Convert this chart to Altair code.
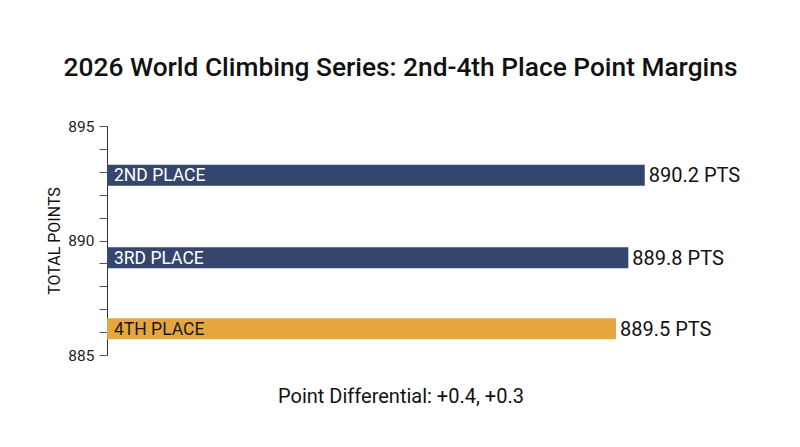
import altair as alt
import pandas as pd

places = ["2ND PLACE", "3RD PLACE", "4TH PLACE"]
points = [890.2, 889.8, 889.5]
point_labels = ["890.2 PTS", "889.8 PTS", "889.5 PTS"]
y_positions = [892.85, 889.25, 886.15]
bar_colors = ["#34466d", "#34466d", "#e5a63f"]
text_colors = ["#ffffff", "#ffffff", "#1a1a1a"]
x_base = 877.1
x_max = 891.4
y_ticks = list(range(885, 896))
half_band = 0.46

df = pd.DataFrame({
    "place": places,
    "points": points,
    "label": point_labels,
    "ypos": y_positions,
    "color": bar_colors,
    "tcolor": text_colors,
})
df["base"] = x_base
df["y0"] = df["ypos"] - half_band
df["y1"] = df["ypos"] + half_band

FONT = "Roboto"

x_enc = alt.X(
    "points:Q",
    scale=alt.Scale(domain=[x_base, x_max], nice=False, zero=False),
    axis=alt.Axis(
        title="Point Differential: +0.4, +0.3",
        domain=False, ticks=False, labels=False, grid=False,
        titleFontSize=20, titleFont=FONT, titleFontWeight="normal",
        titleColor="#111111", titlePadding=31,
    ),
)
y_scale = alt.Scale(domain=[885, 895], nice=False, zero=False)
y_axis = alt.Axis(
    title="TOTAL POINTS",
    values=y_ticks,
    labelExpr="datum.value % 5 == 0 ? datum.label : ''",
    labelOverlap=False,
    grid=False,
    tickSize=8, tickColor="#555555", domainColor="#333333",
    labelFontSize=15.5, labelFont=FONT, labelColor="#222222",
    labelPadding=5,
    titleFontSize=16, titleFont=FONT, titleFontWeight="normal",
    titleColor="#111111", titlePadding=5,
)

bars = alt.Chart(df).mark_rect().encode(
    x=x_enc,
    x2="base:Q",
    y=alt.Y("y0:Q", scale=y_scale, axis=y_axis),
    y2="y1:Q",
    color=alt.Color("color:N", scale=None),
)

cat_text = alt.Chart(df).mark_text(
    align="left", baseline="middle", dx=7, dy=1, fontSize=17.5, font=FONT
).encode(
    x="base:Q",
    y=alt.Y("ypos:Q", scale=y_scale, axis=y_axis),
    text="place:N",
    color=alt.Color("tcolor:N", scale=None),
)

val_text = alt.Chart(df).mark_text(
    align="left", baseline="middle", dx=4, dy=1, fontSize=20, font=FONT,
    color="#111111",
).encode(
    x="points:Q",
    y=alt.Y("ypos:Q", scale=y_scale, axis=y_axis),
    text="label:N",
)

chart = alt.layer(bars, cat_text, val_text).properties(
    width=587,
    height=229,
    title=alt.TitleParams(
        "2026 World Climbing Series: 2nd-4th Place Point Margins",
        fontSize=26.3, font=FONT, fontWeight=500, color="#111111",
        anchor="middle", frame="group", offset=38,
    ),
    padding={"left": 99, "top": 118, "right": 98, "bottom": 84},
    autosize=alt.AutoSizeParams(type="none"),
).configure(background="#ffffff").configure_view(stroke=None)

chart.save("out.html", embed_options={"renderer": "svg", "actions": False})
